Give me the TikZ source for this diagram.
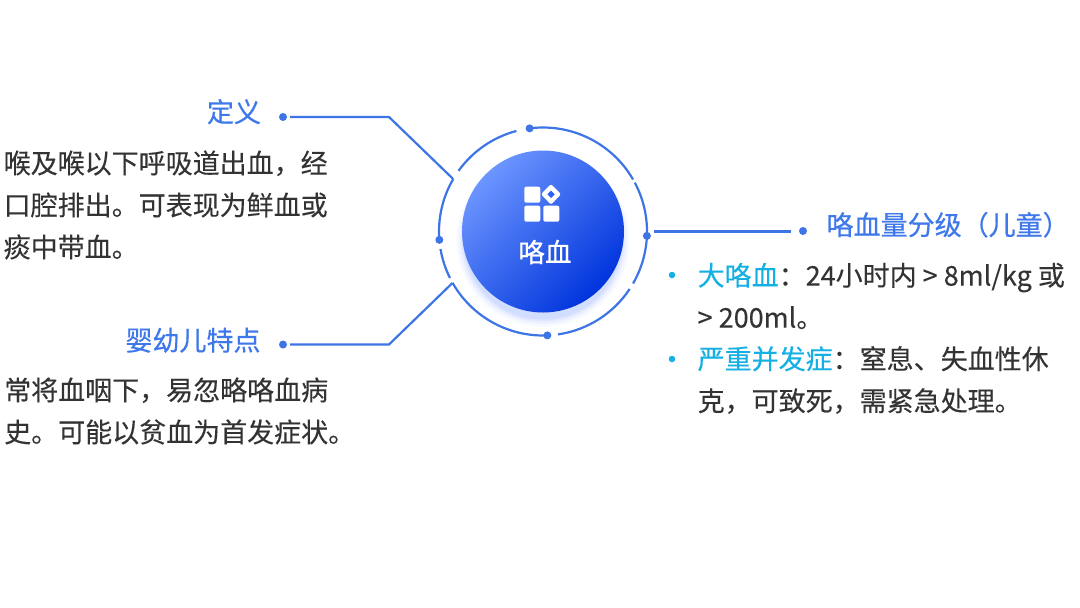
\documentclass[tikz,border=0pt]{standalone}
\usepackage{fontspec}
\setmainfont{Noto Sans CJK SC}
\newfontfamily\titlefont[FakeBold=0.5]{Noto Sans CJK SC}
\newfontfamily\bodyfont[FakeBold=0.15]{Noto Sans CJK SC}
\definecolor{linec}{HTML}{3D74E6}
\definecolor{titlec}{HTML}{3F78EA}
\definecolor{cyanc}{HTML}{14AFE3}
\definecolor{textc}{HTML}{333333}
\definecolor{ballA}{HTML}{6C95FF}
\definecolor{ballM}{HTML}{2A62F5}
\definecolor{ballB}{HTML}{0034DC}
\tikzset{
  wire/.style={draw=linec,line width=2.2pt},
  ring/.style={draw=linec,line width=2.2pt},
  ringdot/.style={circle,fill=linec,inner sep=0pt,minimum size=8pt},
  enddot/.style={circle,fill=linec,inner sep=0pt,minimum size=8pt},
  bulletdot/.style={circle,fill=cyanc,inner sep=0pt,minimum size=6.5pt},
  titletext/.style={text=titlec,inner sep=0pt,font=\titlefont\fontsize{27}{30}\selectfont},
  bodytext/.style={text=textc,inner sep=0pt,align=left,font=\bodyfont\fontsize{27}{42}\selectfont},
  icontile/.style={fill=white,rounded corners=2pt},
}
\begin{document}
\begin{tikzpicture}[x=1pt,y=-1pt]
\useasboundingbox[fill=white] (0,0) rectangle (1080,608);
\coordinate (c) at (543,231.5);
% soft shadow
\foreach \r/\o in {87/0.015,85.5/0.02,84/0.025,82.5/0.03,81/0.04,79.5/0.05}{
  \fill[blue!70!cyan,opacity=\o] (543,240) circle[radius=\r pt];
}
% ball
\node[circle,minimum size=162pt,inner sep=0pt,shading=axis,left color=ballA,middle color=ballM,right color=ballB,shading angle=45] (ball) at (c) {};
% icon
\fill[icontile] (524.3,186.7) rectangle (540.3,202.7);
\fill[icontile] (524.3,205.7) rectangle (540.3,221.7);
\fill[icontile] (543.3,205.7) rectangle (559.3,221.7);
\fill[white,rounded corners=2pt] (551,184) -- (561,194.3) -- (551,204.6) -- (541,194.3) -- cycle;
\fill[ballM] (551,190.6) -- (554.7,194.3) -- (551,198) -- (547.3,194.3) -- cycle;
\node[text=white,inner sep=0pt,font=\titlefont\fontsize{26.5}{30}\selectfont] (ballt) at (545,252) {咯血};
% ring arcs
\foreach \a/\b in {97.4/30,28/-30,-33.6/-81.7,-87.6/-150.4,-153.4/-170.3,-175.4/-210.3,-215.7/-255.2}{
  \draw[ring] ([shift={(c)}]\a:104pt) arc[start angle=\a,end angle=\b,radius=104pt];
}
\node[ringdot] (d1) at ([shift={(c)}]97.4:104pt) {};
\node[ringdot] (d2) at ([shift={(c)}]-2.4:104pt) {};
\node[ringdot] (d3) at ([shift={(c)}]-87.6:104pt) {};
\node[ringdot] (d4) at ([shift={(c)}]184.6:104pt) {};
% connectors
\node[enddot] (e1) at (283,117) {};
\node[enddot] (e2) at (283,344.5) {};
\node[enddot] (e3) at (803,231) {};
\coordinate (a1) at ([shift={(c)}]149.7:104pt);
\coordinate (a2) at ([shift={(c)}]209.6:104pt);
\coordinate (a3) at (654,231.5);
\coordinate (s1) at (290,117);
\coordinate (s2) at (290,344.5);
\coordinate (s3) at (791,231.5);
\draw[wire] (s1) -- (389,117) -- (a1);
\draw[wire] (s2) -- (389,344.5) -- (a2);
\draw[wire] (a3) -- (s3);
% titles
\node[titletext,anchor=base] (t1) at (234,122) {定义};
\node[titletext,anchor=base] (t2) at (193,350.5) {婴幼儿特点};
\node[titletext,anchor=base west] (t3) at (826.5,235) {咯血量分级（儿童）};
% body
\node[bodytext,anchor=west] (b1) at (3.5,205) {喉及喉以下呼吸道出血，经\\口腔排出。可表现为鲜血或\\痰中带血。};
\node[bodytext,anchor=west] (b2) at (4,411) {常将血咽下，易忽略咯血病\\史。可能以贫血为首发症状。};
\node[bulletdot] (p1) at (672,275) {};
\node[bulletdot] (p2) at (672,359) {};
\node[bodytext,anchor=west] (b3) at (697.5,296) {\textcolor{cyanc}{大咯血}：24小时内 > 8ml/kg 或\\> 200ml。};
\node[bodytext,anchor=west] (b4) at (697.5,380) {\textcolor{cyanc}{严重并发症}：窒息、失血性休\\克，可致死，需紧急处理。};
\end{tikzpicture}
\end{document}
